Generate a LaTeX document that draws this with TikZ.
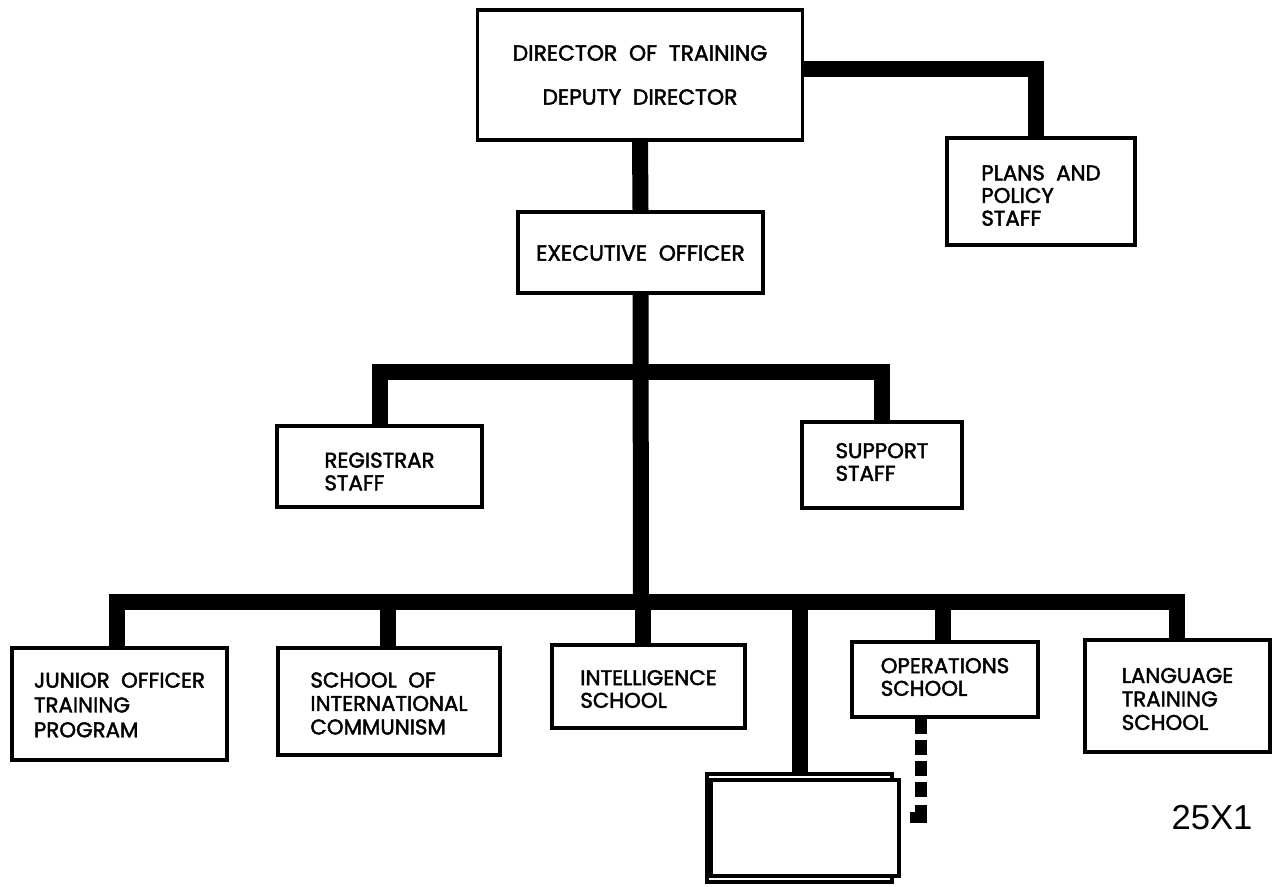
\documentclass[tikz,border=0pt]{standalone}
\usepackage{fontspec}
\setmainfont{Poppins}[FakeBold=2]
\newfontfamily\arialfont{Liberation Sans}
\newlength\pu \setlength\pu{0.75pt}
\begin{document}
\begin{tikzpicture}[x=0.75pt,y=-0.75pt,
  box/.style={draw=black, line width=2.4pt, fill=white, inner sep=0pt},
  lbl/.style={inner sep=0pt, align=left, font=\fontsize{16}{17}\selectfont},
  biglbl/.style={inner sep=0pt, align=center, font=\fontsize{16.4}{18}\selectfont},
  bar/.style={line width=12pt, line join=miter, line cap=butt},
  dbar/.style={line width=8.5pt, dash pattern=on 11.25pt off 4.5pt, line cap=butt},
  sbar/.style={line width=8.5pt, line join=miter, line cap=butt}]
\useasboundingbox (0,0) rectangle (1273,886);

\coordinate (b1) at (641,372);
\coordinate (b2) at (641,602);

% Boxes
\node[box, minimum width=325\pu, minimum height=130\pu] (dir) at (640,75) {};
\node[box, minimum width=245\pu, minimum height=81\pu] (exec) at (640.5,252.5) {};
\node[box, minimum width=188\pu, minimum height=107\pu] (plans) at (1041,191.5) {};
\node[box, minimum width=205\pu, minimum height=81\pu] (reg) at (379.5,466.5) {};
\node[box, minimum width=160\pu, minimum height=86\pu] (sup) at (882,465) {};
\node[box, minimum width=215\pu, minimum height=112\pu] (jot) at (119.5,704) {};
\node[box, minimum width=222\pu, minimum height=107\pu] (sic) at (389,701.5) {};
\node[box, minimum width=193\pu, minimum height=83\pu] (int) at (648.5,686.5) {};
\node[box, minimum width=186\pu, minimum height=75\pu] (ops) at (945,679.5) {};
\node[box, minimum width=185\pu, minimum height=112\pu] (lang) at (1177.5,696) {};
\node[box, minimum width=185\pu, minimum height=108\pu] (blankback) at (799.5,828) {};
\node[box, minimum width=188\pu, minimum height=96\pu] (blank) at (805,828) {};

% Labels
\node[biglbl] (dirt) at (dir) {DIRECTOR\ \ OF\ \ TRAINING\\[15pt]DEPUTY\ \ DIRECTOR};
\node[biglbl] (exect) at ([yshift=-0.5\pu]exec.center) {EXECUTIVE\ \ OFFICER};
\node[lbl] (planst) at ([yshift=-4\pu]plans.center) {PLANS\ \ AND\\POLICY\\STAFF};
\node[lbl] (regt) at ([yshift=-5\pu]reg.center) {REGISTRAR\\STAFF};
\node[lbl] (supt) at ([yshift=3\pu]sup.center) {SUPPORT\\STAFF};
\node[lbl, font=\fontsize{16}{18.6}\selectfont] (jott) at ([yshift=-1\pu]jot.center) {JUNIOR\ \ OFFICER\\TRAINING\\PROGRAM};
\node[lbl, font=\fontsize{16}{17.6}\selectfont] (sict) at ([yshift=-2\pu]sic.center) {SCHOOL\ \ OF\\INTERNATIONAL\\COMMUNISM};
\node[lbl] (intt) at ([yshift=-2.5\pu]int.center) {INTELLIGENCE\\SCHOOL};
\node[lbl] (opst) at ([yshift=2.5\pu]ops.center) {OPERATIONS\\SCHOOL};
\node[lbl, font=\fontsize{16}{17.6}\selectfont] (langt) at ([yshift=-3\pu]lang.center) {LANGUAGE\\TRAINING\\SCHOOL};

\node[font=\arialfont\fontsize{26}{30}\selectfont, inner sep=0pt] (code) at (1212,818) {25X1};

% Connectors
\draw[bar] (dir.south) -- (exec.north);
\draw[bar] ([yshift=6\pu]dir.east) -| ([xshift=-5\pu]plans.north);
\draw[bar] (exec.south) -- (b2);
\draw[bar] (reg.north) |- (b1) -| (sup.north);
\draw[bar] ([xshift=-2.5\pu]jot.north) |- (b2) -| ([xshift=-0.5\pu]lang.north);
\draw[bar] ([xshift=-1\pu]sic.north) -- ([xshift=-1\pu]sic.north |- b2);
\draw[bar] ([xshift=-5.5\pu]int.north) -- ([xshift=-5.5\pu]int.north |- b2);
\draw[bar] ([xshift=-2\pu]ops.north) -- ([xshift=-2\pu]ops.north |- b2);
\draw[bar] (blankback.north) -- (blankback.north |- b2);
\coordinate (dend) at ([xshift=-24\pu, yshift=-78\pu]ops.south);
\coordinate (dstart) at ([xshift=-24\pu, yshift=-86\pu]ops.south);
\coordinate (hook) at ([xshift=9\pu,yshift=10.5\pu]blank.east);
\draw[dbar] ([xshift=-24\pu]ops.south) -- (dend);
\draw[sbar] (dstart) |- (hook);
\end{tikzpicture}
\end{document}
